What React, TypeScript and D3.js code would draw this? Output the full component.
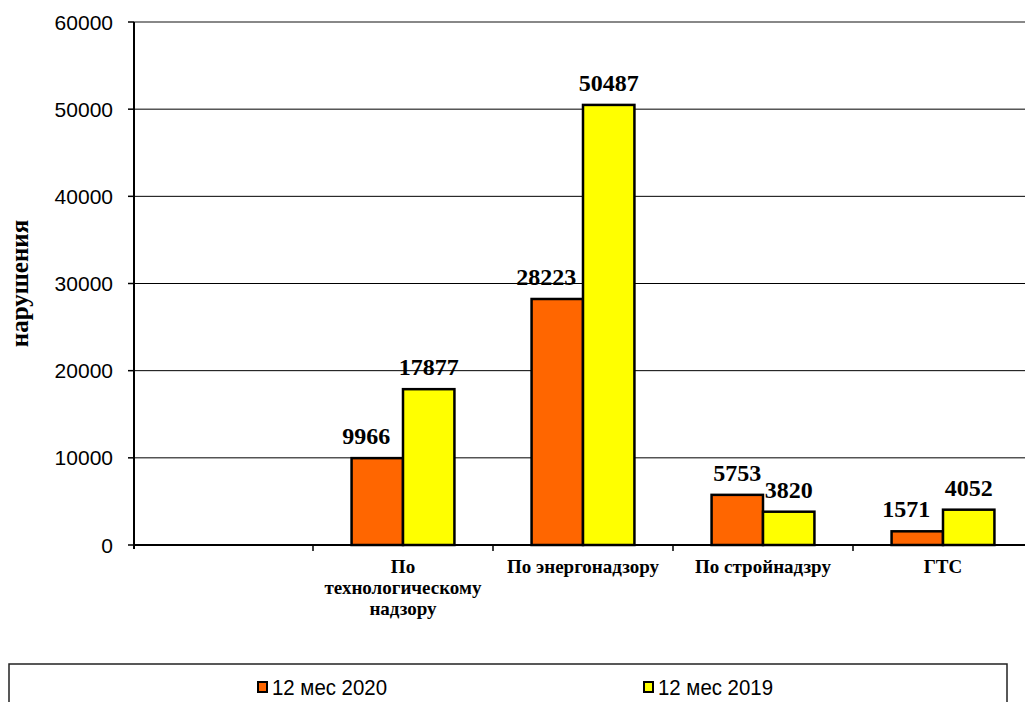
import React from 'react';
import * as d3 from 'd3';

// категории (первая пустая, как в исходной диаграмме)
const categories = ['', 'По технологическому надзору', 'По энергонадзору', 'По стройнадзру', 'ГТС'];
const categoryLines = [[], ['По', 'технологическому', 'надзору'], ['По энергонадзору'], ['По стройнадзру'], ['ГТС']];
const series = ['12 мес 2020', '12 мес 2019'];
const values2020 = [null, 9966, 28223, 5753, 1571];
const values2019 = [null, 17877, 50487, 3820, 4052];
const yTicks = [0, 10000, 20000, 30000, 40000, 50000, 60000];
const colors = ['#FF6600', '#FFFF00'];

const W = 1025;
const H = 702;
const left = 134;
const right = 1033;
const top = 22;
const bottom = 545;
const serif = "'Times New Roman', 'Liberation Serif', serif";

export default function App() {
  const x0 = d3.scaleBand<string>().domain(categories).range([left - 1, right]).padding(0);
  const x1 = d3
    .scaleBand<string>()
    .domain(series)
    .range([0, x0.bandwidth()])
    .paddingInner(0)
    .paddingOuter(0.75);
  const y = d3.scaleLinear().domain([0, 60000]).range([bottom, top]);
  const seriesValues = [values2020, values2019];

  const legendX = d3.scalePoint<string>().domain(series).range([257, 643]);

  return (
    <svg width={W} height={H} style={{ position: 'absolute', left: 0, top: 0, background: '#fff' }}>
      {/* сетка */}
      {yTicks.map((t) => (
        <g key={t}>
          {t > 0 && t < 60000 && (
            <line x1={left} x2={W} y1={y(t)} y2={y(t)} stroke="#000" strokeWidth={1} />
          )}
          <line x1={left - 6} x2={left} y1={y(t)} y2={y(t)} stroke="#000" strokeWidth={1.5} />
          <text
            x={113}
            y={y(t)}
            textAnchor="end"
            dominantBaseline="central"
            fontFamily="Arial, 'Liberation Sans', sans-serif"
            fontSize={21}
            fill="#000"
          >
            {t}
          </text>
        </g>
      ))}
      <line x1={left} x2={W} y1={top} y2={top} stroke="#888" strokeWidth={2} />

      {/* столбцы */}
      {categories.map((c, i) => (
        <g key={'c' + i} transform={`translate(${x0(c)},0)`}>
          {series.map((s, j) => {
            const v = seriesValues[j][i];
            if (v == null) return null;
            return (
              <rect
                key={s}
                x={x1(s)}
                y={y(v)}
                width={x1.bandwidth()}
                height={bottom - y(v)}
                fill={colors[j]}
                stroke="#000"
                strokeWidth={2.5}
              />
            );
          })}
        </g>
      ))}

      {/* оси */}
      <line x1={left} x2={W} y1={bottom} y2={bottom} stroke="#000" strokeWidth={2} />
      <line x1={left} x2={left} y1={top} y2={bottom + 4} stroke="#000" strokeWidth={2} />
      {categories.slice(1).map((c) => (
        <line key={'t' + c} x1={x0(c)} x2={x0(c)} y1={bottom} y2={bottom + 6} stroke="#000" strokeWidth={1.5} />
      ))}

      {/* подписи значений */}
      {categories.map((c, i) => (
        <g key={'l' + i} transform={`translate(${x0(c)},0)`}>
          {series.map((s, j) => {
            const v = seriesValues[j][i];
            if (v == null) return null;
            const other = seriesValues[1 - j][i] ?? 0;
            // как в Excel: подпись левого столбца сдвигается, если правый выше
            const dx = j === 0 && v < other ? -11 : 0;
            return (
              <text
                key={s}
                x={(x1(s) ?? 0) + x1.bandwidth() / 2 + dx}
                y={y(v) - 14}
                textAnchor="middle"
                fontFamily={serif}
                fontWeight="bold"
                fontSize={24}
                fill="#000"
              >
                {v}
              </text>
            );
          })}
        </g>
      ))}

      {/* подписи категорий */}
      {categories.map((c, i) => (
        <text
          key={'n' + i}
          x={(x0(c) ?? 0) + x0.bandwidth() / 2}
          y={573}
          textAnchor="middle"
          fontFamily={serif}
          fontWeight="bold"
          fontSize={19}
          fill="#000"
        >
          {categoryLines[i].map((line, k) => (
            <tspan key={k} x={(x0(c) ?? 0) + x0.bandwidth() / 2} dy={k === 0 ? 0 : 21}>
              {line}
            </tspan>
          ))}
        </text>
      ))}

      {/* подпись оси */}
      <text
        transform={`translate(28,${(top + bottom) / 2}) rotate(-90)`}
        textAnchor="middle"
        fontFamily={serif}
        fontWeight="bold"
        fontSize={25}
        fill="#000"
      >
        нарушения
      </text>

      {/* легенда */}
      <rect x={9} y={664} width={998} height={60} fill="#fff" stroke="#222" strokeWidth={1.5} />
      {series.map((s, j) => (
        <g key={'lg' + s} transform={`translate(${legendX(s)},0)`}>
          <rect x={1} y={682} width={9} height={10} fill={colors[j]} stroke="#000" strokeWidth={2} />
          <text
            x={15}
            y={695}
            fontFamily="Arial, 'Liberation Sans', sans-serif"
            fontSize={22}
            textLength={115}
            lengthAdjust="spacingAndGlyphs"
            fill="#000"
          >
            {s}
          </text>
        </g>
      ))}
    </svg>
  );
}
